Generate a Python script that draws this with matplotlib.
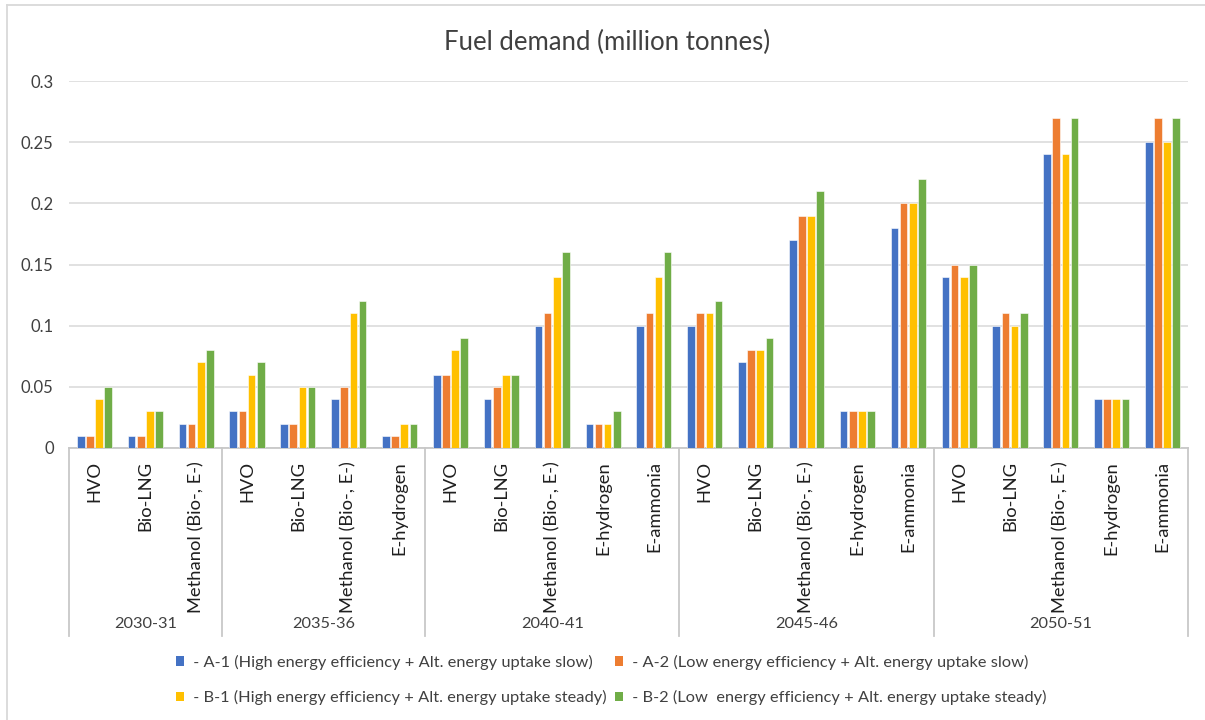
import matplotlib
matplotlib.use('Agg')
import matplotlib.pyplot as plt
import matplotlib.transforms as mtransforms
from matplotlib.lines import Line2D
from matplotlib.patches import Patch
import numpy as np

plt.rcParams['font.family'] = ['Lato', 'DejaVu Sans']

periods = ['2030-31', '2035-36', '2040-41', '2045-46', '2050-51']
fuels = [
    ['HVO', 'Bio-LNG', 'Methanol (Bio-, E-)'],
    ['HVO', 'Bio-LNG', 'Methanol (Bio-, E-)', 'E-hydrogen'],
    ['HVO', 'Bio-LNG', 'Methanol (Bio-, E-)', 'E-hydrogen', 'E-ammonia'],
    ['HVO', 'Bio-LNG', 'Methanol (Bio-, E-)', 'E-hydrogen', 'E-ammonia'],
    ['HVO', 'Bio-LNG', 'Methanol (Bio-, E-)', 'E-hydrogen', 'E-ammonia'],
]

# scenario values, one per fuel in the order above
a1 = [0.01, 0.01, 0.02,
      0.03, 0.02, 0.04, 0.01,
      0.06, 0.04, 0.10, 0.02, 0.10,
      0.10, 0.07, 0.17, 0.03, 0.18,
      0.14, 0.10, 0.24, 0.04, 0.25]
a2 = [0.01, 0.01, 0.02,
      0.03, 0.02, 0.05, 0.01,
      0.06, 0.05, 0.11, 0.02, 0.11,
      0.11, 0.08, 0.19, 0.03, 0.20,
      0.15, 0.11, 0.27, 0.04, 0.27]
b1 = [0.04, 0.03, 0.07,
      0.06, 0.05, 0.11, 0.02,
      0.08, 0.06, 0.14, 0.02, 0.14,
      0.11, 0.08, 0.19, 0.03, 0.20,
      0.14, 0.10, 0.24, 0.04, 0.25]
b2 = [0.05, 0.03, 0.08,
      0.07, 0.05, 0.12, 0.02,
      0.09, 0.06, 0.16, 0.03, 0.16,
      0.12, 0.09, 0.21, 0.03, 0.22,
      0.15, 0.11, 0.27, 0.04, 0.27]

series_names = [
    ' - A-1 (High energy efficiency + Alt. energy uptake slow)',
    ' - A-2 (Low energy efficiency + Alt. energy uptake slow)',
    ' - B-1 (High energy efficiency + Alt. energy uptake steady)',
    ' - B-2 (Low  energy efficiency + Alt. energy uptake steady)',
]
colors = ['#4472C4', '#ED7D31', '#FFC000', '#70AD47']

W, H = 1205, 720
fig = plt.figure(figsize=(W / 100, H / 100), dpi=100)
ax = fig.add_axes([69 / W, 1 - 448 / H, (1188 - 69) / W, (448 - 81) / H])

n = len(a1)
x = np.arange(n)
step = 0.18
for i, vals in enumerate([a1, a2, b1, b2]):
    ax.bar(x + (i - 1.5) * step, vals, width=0.15, color=colors[i],
           edgecolor='white', linewidth=0.4, zorder=3)

ax.set_xlim(-0.5, n - 0.5)
ax.set_ylim(0, 0.3)
ax.set_yticks([0, 0.05, 0.1, 0.15, 0.2, 0.25, 0.3])
ax.set_yticklabels(['0', '0.05', '0.1', '0.15', '0.2', '0.25', '0.3'])
ax.tick_params(axis='y', length=0, pad=11, labelsize=12, labelcolor='#404040')
ax.set_xticks([])
ax.grid(axis='y', color='#D9D9D9', linewidth=1.1, zorder=0)
for s in ['top', 'right', 'left']:
    ax.spines[s].set_visible(False)
ax.spines['bottom'].set_color('#C8C8C8')
ax.spines['bottom'].set_linewidth(1.3)

# two level category axis drawn by hand
trans = mtransforms.blended_transform_factory(ax.transData, fig.transFigure)
pos = 0
edges = [-0.5]
for period, names in zip(periods, fuels):
    for j, name in enumerate(names):
        ax.text(pos + j, 1 - 461 / H, name, rotation=90, ha='center', va='top',
                fontsize=13.2, color='#1f1f1f', transform=trans, clip_on=False)
    mid = pos + (len(names) - 1) / 2
    ax.text(mid, 1 - 624 / H, period, ha='center', va='center', fontsize=11.8,
            color='#404040', transform=trans, clip_on=False)
    pos += len(names)
    edges.append(pos - 0.5)

for e in edges:
    ax.add_line(Line2D([e, e], [1 - 448 / H, 1 - 636 / H], color='#C8C8C8',
                       linewidth=1.3, transform=trans, clip_on=False))

fig.text(607 / W, 1 - 42 / H, 'Fuel demand (million tonnes)', ha='center',
         va='center', fontsize=18.5, color='#404040')

# legend, filled column first so A rows sit on top
handles = [Patch(facecolor=c) for c in colors]
order = [0, 2, 1, 3]
fig.legend([handles[k] for k in order], [series_names[k] for k in order],
           ncol=2, loc='center', bbox_to_anchor=(611 / W, 1 - 680 / H),
           frameon=False, fontsize=11.8, handlelength=0.5, handleheight=0.5,
           handletextpad=0.3, columnspacing=0.5, labelspacing=1.25,
           labelcolor='#404040')

# light frame on the left and top
fig.add_artist(Line2D([7 / W, 7 / W], [0, 1 - 5 / H], color='#D9D9D9', linewidth=1.3))
fig.add_artist(Line2D([7 / W, 1], [1 - 5 / H, 1 - 5 / H], color='#D9D9D9', linewidth=1.3))

fig.savefig('out.png', dpi=100)
